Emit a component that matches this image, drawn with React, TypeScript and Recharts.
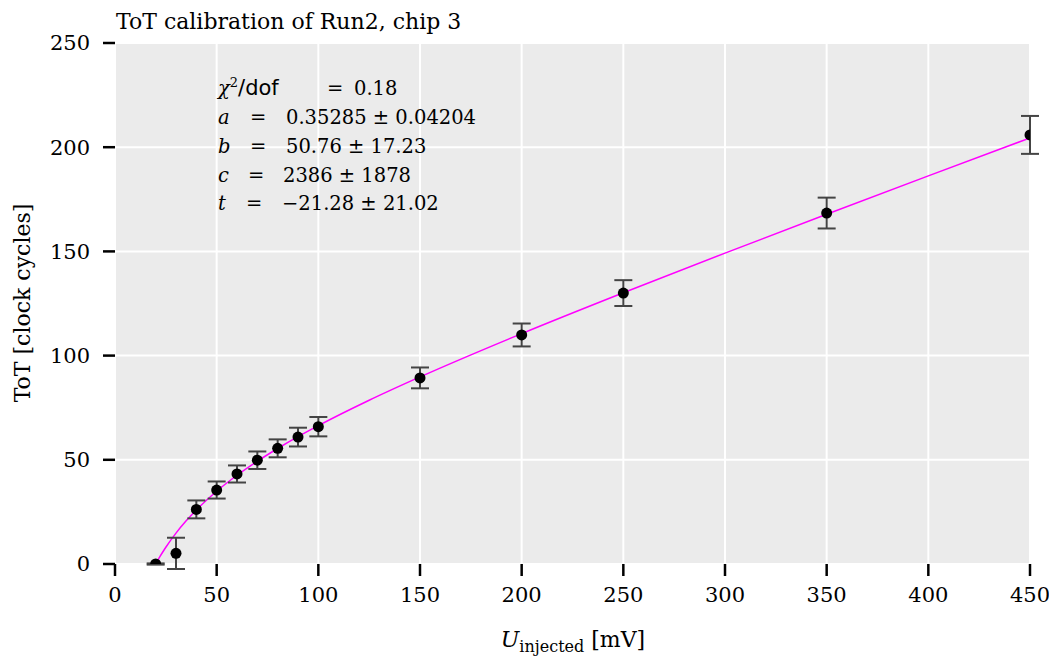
import React from 'react';
import { ComposedChart, Scatter, Line, XAxis, YAxis, CartesianGrid, ErrorBar } from 'recharts';

// measured points: injected voltage [mV], ToT [clock cycles], error
const voltages = [20, 30, 40, 50, 60, 70, 80, 90, 100, 150, 200, 250, 350, 450];
const totValues = [0, 5.1, 26.2, 35.5, 43.2, 49.8, 55.5, 60.9, 65.9, 89.3, 109.9, 130, 168.4, 205.9];
const totErrors = [0.3, 7.5, 4.3, 4.1, 4.1, 4.2, 4.3, 4.5, 4.65, 5, 5.5, 6.2, 7.4, 9.1];

// fit curve
const fitX = [20, 22, 25, 30, 35, 40, 50, 60, 70, 80, 90, 100, 125, 150, 200, 250, 300, 350, 400, 450];
const fitY = [0.02, 3.39, 8.02, 14.82, 20.71, 25.94, 34.93, 42.58, 49.32, 55.43, 61.08, 66.37, 78.56, 89.76, 110.55, 130.17, 149.19, 167.83, 186.24, 204.48];

const xTicks = [0, 50, 100, 150, 200, 250, 300, 350, 400, 450];
const yTicks = [0, 50, 100, 150, 200, 250];

const points = voltages.map((x, i) => ({ x, y: totValues[i], err: totErrors[i] }));
const fit = fitX.map((x, i) => ({ x, y: fitY[i] }));

const SERIF = '"DejaVu Serif", serif';
const W = 1049;
const H = 659;

const Dot = (props: any) => <circle cx={props.cx} cy={props.cy} r={5.5} fill="#000" />;

export default function App() {
  return (
    <div style={{ position: 'absolute', left: 0, top: 0, width: W, height: H, background: '#fff' }}>
      <ComposedChart width={W} height={H} margin={{ top: 43, right: 19, bottom: 55, left: 55 }}>
        <CartesianGrid fill="#ebebeb" stroke="#fff" strokeWidth={2} horizontalValues={yTicks} verticalValues={xTicks} />
        <XAxis
          type="number"
          dataKey="x"
          domain={[0, 450]}
          ticks={xTicks}
          height={40}
          axisLine={false}
          tickSize={12}
          tickMargin={11}
          tickLine={{ stroke: '#000', strokeWidth: 2.5 }}
          tick={{ fill: '#000', fontSize: 21, fontFamily: SERIF }}
          allowDataOverflow
        />
        <YAxis
          type="number"
          dataKey="y"
          domain={[0, 250]}
          ticks={yTicks}
          width={60}
          axisLine={false}
          tickSize={12}
          tickMargin={13}
          tickLine={{ stroke: '#000', strokeWidth: 2.5 }}
          tick={{ fill: '#000', fontSize: 21, fontFamily: SERIF }}
          allowDataOverflow
        />
        <Line data={fit} dataKey="y" type="monotone" stroke="#ff00ff" strokeWidth={1.5} dot={false} isAnimationActive={false} />
        <Scatter data={points} dataKey="y" shape={Dot} isAnimationActive={false}>
          <ErrorBar dataKey="err" direction="y" width={9} stroke="#444" strokeWidth={2} isAnimationActive={false} />
        </Scatter>
      </ComposedChart>
      <svg width={W} height={H} style={{ position: 'absolute', left: 0, top: 0, pointerEvents: 'none' }}>
        <g fontFamily={SERIF} fill="#000">
          <text x={116} y={29} fontSize={22}>ToT calibration of Run2, chip 3</text>
          <text x={573} y={647} fontSize={22} textAnchor="middle">
            <tspan fontStyle="italic">U</tspan>
            <tspan fontSize={16} dy={5}>injected</tspan>
            <tspan dy={-5}> [mV]</tspan>
          </text>
          <text transform="translate(30,303) rotate(-90)" fontSize={22} textAnchor="middle">ToT [clock cycles]</text>
          <g fontSize={19.5}>
            <text x={218} y={95}>
              <tspan fontStyle="italic">χ</tspan>
              <tspan fontSize={13} dy={-8}>2</tspan>
              <tspan dy={8} fontSize={21} fontFamily='"DejaVu Sans", sans-serif'>/dof</tspan>
            </text>
            <text x={327} y={95}>=</text>
            <text x={354} y={95}>0.18</text>

            <text x={218} y={124} fontStyle="italic">a</text>
            <text x={250} y={124}>=</text>
            <text x={286} y={124}>0.35285 ± 0.04204</text>

            <text x={218} y={153} fontStyle="italic">b</text>
            <text x={250} y={153}>=</text>
            <text x={286} y={153}>50.76 ± 17.23</text>

            <text x={218} y={182} fontStyle="italic">c</text>
            <text x={248} y={182}>=</text>
            <text x={283} y={182}>2386 ± 1878</text>

            <text x={218} y={210} fontStyle="italic">t</text>
            <text x={246} y={210}>=</text>
            <text x={282} y={210}>−21.28 ± 21.02</text>
          </g>
        </g>
      </svg>
    </div>
  );
}
